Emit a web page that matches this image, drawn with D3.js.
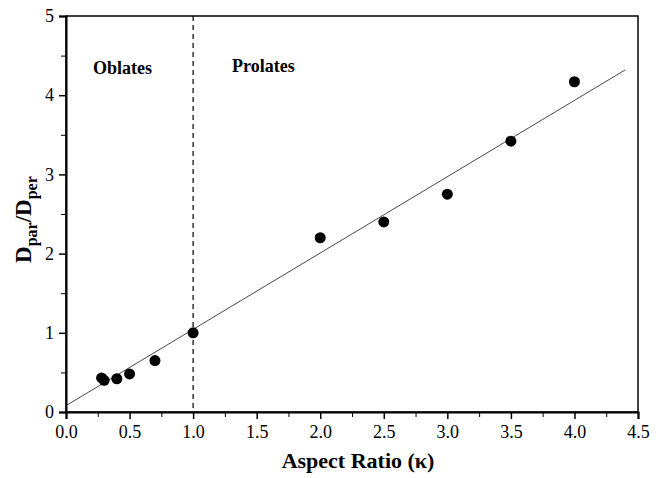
<!DOCTYPE html>
<html>
<head>
<meta charset="utf-8">
<script src="https://cdn.jsdelivr.net/npm/d3@7"></script>
<style>
  body { margin: 0; background: #fff; }
  text { font-family: "Liberation Serif", "Times New Roman", serif; }
</style>
</head>
<body>
<svg id="chart" width="662" height="478"></svg>
<script>
// measured points
const ratio = [0.28, 0.30, 0.40, 0.50, 0.70, 1.0, 2.0, 2.5, 3.0, 3.5, 4.0];
const dRatio = [0.43, 0.40, 0.42, 0.48, 0.65, 1.0, 2.2, 2.4, 2.75, 3.42, 4.17];

// linear fit line endpoints
const fitX = [0, 4.4];
const fitY = [0.08, 4.32];

const xTicks = [0, 0.5, 1, 1.5, 2, 2.5, 3, 3.5, 4, 4.5];
const yTicks = [0, 1, 2, 3, 4, 5];

const svg = d3.select('#chart');
const margin = { top: 16, right: 24, bottom: 66, left: 66 };
const width = +svg.attr('width');
const height = +svg.attr('height');
const serif = '"Liberation Serif", "Times New Roman", serif';

const x = d3.scaleLinear().domain([0, 4.5]).range([margin.left, width - margin.right]);
const y = d3.scaleLinear().domain([0, 5]).range([height - margin.bottom, margin.top]);

// frame
svg.append('rect')
    .attr('x', x(0)).attr('y', y(5))
    .attr('width', x(4.5) - x(0)).attr('height', y(0) - y(5))
    .attr('fill', 'none').attr('stroke', '#000').attr('stroke-width', 1.5);

// minor ticks
svg.append('g')
    .attr('transform', `translate(0,${y(0)})`)
    .call(d3.axisBottom(x).tickValues(d3.range(0.25, 4.5, 0.5)).tickSize(5).tickFormat(''))
    .call(g => g.select('.domain').remove());
svg.append('g')
    .attr('transform', `translate(${x(0)},0)`)
    .call(d3.axisLeft(y).tickValues(d3.range(0.5, 5, 1)).tickSize(5).tickFormat(''))
    .call(g => g.select('.domain').remove());

// major ticks
const xAxis = svg.append('g')
    .attr('transform', `translate(0,${y(0)})`)
    .call(d3.axisBottom(x).tickValues(xTicks).tickSize(7).tickPadding(6).tickFormat(d3.format('.1f')))
    .attr('font-family', serif).attr('font-size', 18);
xAxis.select('.domain').attr('stroke-width', 2);
xAxis.selectAll('line').attr('stroke-width', 1.5);
xAxis.selectAll('text').attr('fill', '#000').style('font-family', serif);

const yAxis = svg.append('g')
    .attr('transform', `translate(${x(0)},0)`)
    .call(d3.axisLeft(y).tickValues(yTicks).tickSize(7).tickPadding(5).tickFormat(d3.format('d')))
    .attr('font-family', serif).attr('font-size', 18);
yAxis.select('.domain').attr('stroke-width', 2);
yAxis.selectAll('line').attr('stroke-width', 1.5);
yAxis.selectAll('text').attr('fill', '#000').style('font-family', serif);

// dashed divider at k = 1
svg.append('line')
    .attr('x1', x(1)).attr('x2', x(1))
    .attr('y1', y(5)).attr('y2', y(0))
    .attr('stroke', '#000').attr('stroke-width', 1.2)
    .attr('stroke-dasharray', '5,4');

// fit line
svg.append('line')
    .attr('x1', x(fitX[0])).attr('y1', y(fitY[0]))
    .attr('x2', x(fitX[1])).attr('y2', y(fitY[1]))
    .attr('stroke', '#333').attr('stroke-width', 0.9);

// points
svg.selectAll('circle.pt')
    .data(ratio.map((r, i) => [r, dRatio[i]]))
    .enter().append('circle')
    .attr('class', 'pt')
    .attr('cx', d => x(d[0]))
    .attr('cy', d => y(d[1]))
    .attr('r', 5.5)
    .attr('fill', '#000');

// region labels
svg.append('text')
    .attr('x', 93).attr('y', 74)
    .attr('font-size', 18).attr('font-weight', 'bold')
    .text('Oblates');
svg.append('text')
    .attr('x', 232).attr('y', 72)
    .attr('font-size', 18).attr('font-weight', 'bold')
    .text('Prolates');

// axis titles
svg.append('text')
    .attr('x', 358).attr('y', 468)
    .attr('text-anchor', 'middle')
    .attr('font-size', 22).attr('font-weight', 'bold')
    .text('Aspect Ratio (\u03BA)');

const yLabel = svg.append('text')
    .attr('transform', `translate(31,${y(2.43)}) rotate(-90)`)
    .attr('text-anchor', 'middle')
    .attr('font-size', 23).attr('font-weight', 'bold');
yLabel.append('tspan').text('D');
yLabel.append('tspan').attr('font-size', 16).attr('dy', 6).text('par');
yLabel.append('tspan').attr('dy', -6).text('/D');
yLabel.append('tspan').attr('font-size', 16).attr('dy', 6).text('per');
</script>
</body>
</html>
